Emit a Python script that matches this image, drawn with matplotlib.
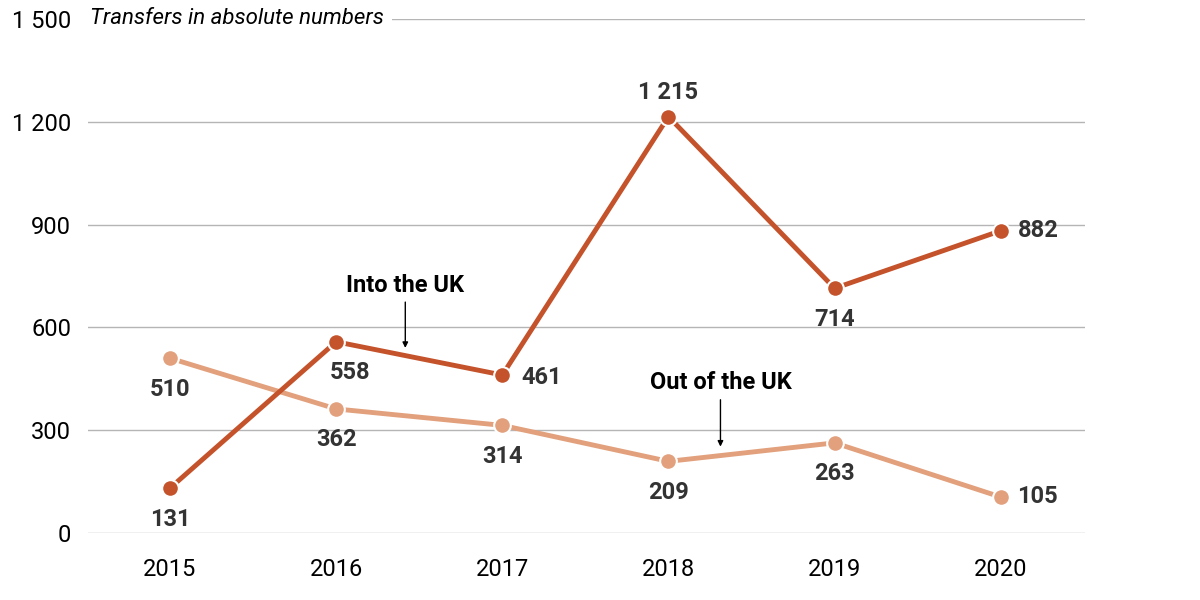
import matplotlib.pyplot as plt

years = ["2015", "2016", "2017", "2018", "2019", "2020"]
into_uk = [131, 558, 461, 1215, 714, 882]
out_uk = [510, 362, 314, 209, 263, 105]
y_ticks = [0, 300, 600, 900, 1200, 1500]
y_labels = ["0", "300", "600", "900", "1 200", "1 500"]

plt.rcParams["font.family"] = ["Roboto", "DejaVu Sans"]

dark = "#c4522a"
light = "#e2a07c"
txt = "#333333"

fig = plt.figure(figsize=(12, 6), dpi=100)
ax = fig.add_axes([0.0733, 0.1117, 0.8307, 0.8567])
x = list(range(len(years)))

for t in y_ticks:
    ax.axhline(t, color="#b5b5b5", lw=1, zorder=0)

ax.plot(x, out_uk, color=light, lw=3.5, marker="o", ms=12, mec="white", mew=1.5, zorder=3)
ax.plot(x, into_uk, color=dark, lw=3.5, marker="o", ms=12, mec="white", mew=1.5, zorder=4)

# data labels: (dx, dy, ha, va)
into_pos = [(0, -14, "center", "top"), (10, -14, "center", "top"), (14, -2, "left", "center"),
            (0, 9, "center", "bottom"), (0, -14, "center", "top"), (12, 0, "left", "center")]
out_pos = [(0, -14, "center", "top"), (0, -14, "center", "top"), (0, -14, "center", "top"),
           (0, -14, "center", "top"), (0, -14, "center", "top"), (12, 0, "left", "center")]
for i in x:
    dx, dy, ha, va = into_pos[i]
    ax.annotate(f"{into_uk[i]:,}".replace(",", " "), (i, into_uk[i]), xytext=(dx, dy),
                textcoords="offset points", ha=ha, va=va, fontsize=17, fontweight="bold", color=txt)
    dx, dy, ha, va = out_pos[i]
    ax.annotate(str(out_uk[i]), (i, out_uk[i]), xytext=(dx, dy),
                textcoords="offset points", ha=ha, va=va, fontsize=17, fontweight="bold", color=txt)

ax.annotate("Into the UK", xy=(1.416, 540), xytext=(1.416, 690), ha="center", va="bottom",
            fontsize=17, fontweight="bold", color="black",
            arrowprops=dict(arrowstyle="-|>", color="black", lw=1, mutation_scale=8, shrinkA=2, shrinkB=0))
ax.annotate("Out of the UK", xy=(3.313, 252), xytext=(3.313, 405), ha="center", va="bottom",
            fontsize=17, fontweight="bold", color="black",
            arrowprops=dict(arrowstyle="-|>", color="black", lw=1, mutation_scale=8, shrinkA=2, shrinkB=0))

ax.text(0.002, 1500, "Transfers in absolute numbers", transform=ax.get_yaxis_transform(),
        ha="left", va="center", fontsize=16, style="italic", color="black", zorder=5,
        bbox=dict(facecolor="white", edgecolor="none", pad=6))

ax.set_xlim(-0.494, 5.506)
ax.set_ylim(0, 1500)
ax.set_xticks(x)
ax.set_xticklabels(years)
ax.set_yticks(y_ticks)
ax.set_yticklabels(y_labels)
ax.tick_params(length=0, labelsize=17, colors="black")
ax.tick_params(axis="x", pad=18)
ax.tick_params(axis="y", pad=12)
for s in ax.spines.values():
    s.set_visible(False)

fig.savefig("out.png", dpi=100, facecolor="white")
